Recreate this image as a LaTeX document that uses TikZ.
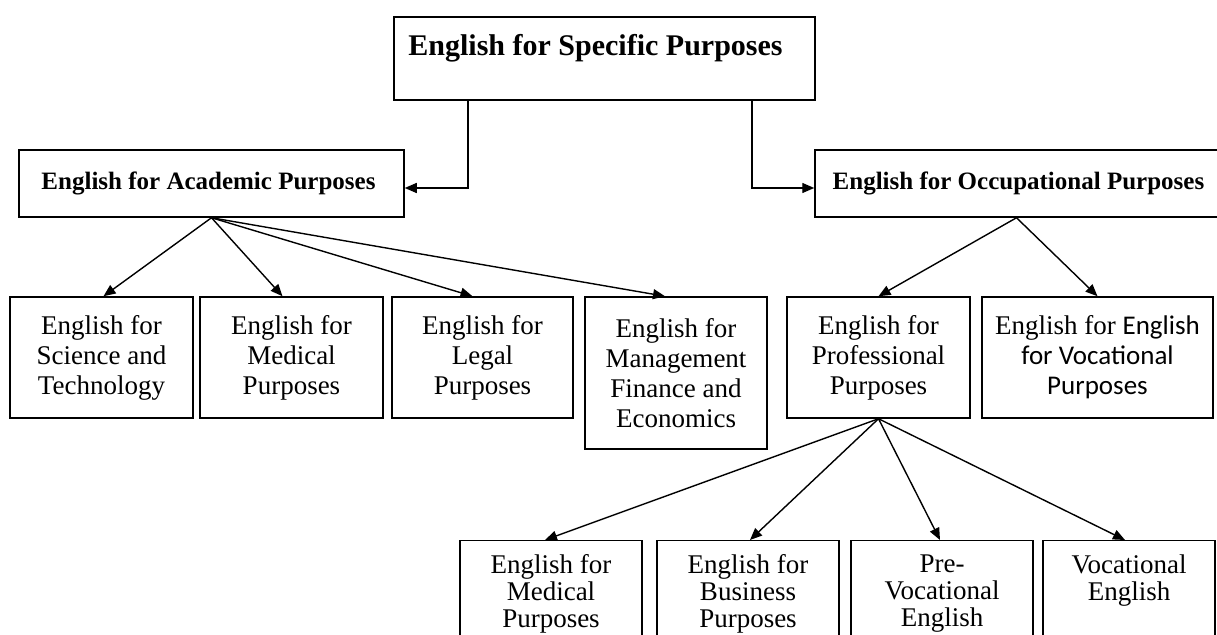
\documentclass[tikz,border=0pt]{standalone}
\usepackage{fontspec}
\setmainfont{Liberation Serif}
\newfontfamily\calfont{Carlito}
\usetikzlibrary{arrows.meta}

\begin{document}
\begin{tikzpicture}[x=0.5pt,y=-0.5pt,
    box/.style={draw, line width=0.75pt, inner sep=0pt, align=center,
        font=\fontsize{13.5}{15}\selectfont},
    head/.style={box, font=\bfseries\fontsize{12.5}{15}\selectfont},
    lowbox/.style={box, anchor=north, inner ysep=7pt, minimum width=91pt,
        font=\fontsize{13.5}{13.5}\selectfont},
    link/.style={line width=0.7pt, -{Triangle[length=6pt,width=5pt]}}]
    \useasboundingbox (0,0) rectangle (1217,635);

    % top level
    \node[head, font=\bfseries\fontsize{15}{17}\selectfont,
        minimum width=210.5pt, minimum height=41.5pt] (esp) at (604.5,58.5)
        {English for Specific Purposes\hspace*{9pt}\\[-3.3pt]\mbox{}};
    \node[head, minimum width=192.5pt, minimum height=33.5pt] (eap) at (211.5,183.5)
        {English for Academic Purposes\hspace*{3pt}};
    \node[head, minimum width=201.5pt, minimum height=33.5pt] (eop) at (1016.5,183.5)
        {\hspace*{2pt}English for Occupational Purposes};

    % second level
    \node[box, minimum width=91.5pt, minimum height=60.5pt] (sci) at (101.5,357.5)
        {English for\\Science and\\Technology};
    \node[box, minimum width=91.5pt, minimum height=60.5pt] (med) at (291.5,357.5)
        {English for\\Medical\\Purposes};
    \node[box, minimum width=90.5pt, minimum height=60.5pt] (leg) at (482.5,357.5)
        {English for\\Legal\\Purposes};
    \node[box, minimum width=91pt, minimum height=76pt] (mgt) at (676,373)
        {English for\\Management\\Finance and\\Economics};
    \node[box, minimum width=91.5pt, minimum height=60.5pt] (pro) at (878.5,357.5)
        {English for\\Professional\\Purposes};
    \node[box, minimum width=115.5pt, minimum height=60.5pt] (voc) at (1097.5,357.5)
        {English for {\calfont English}\\{\calfont for Vocational}\\{\calfont Purposes}};

    % third level
    \node[lowbox] (bmed) at (551,540) {English for\\Medical\\Purposes};
    \node[lowbox] (bbus) at (748,540) {English for\\Business\\Purposes};
    \node[lowbox] (bpre) at (942,540) {Pre-\\Vocational\\English};
    \node[lowbox, minimum width=86pt] (bvoc) at (1129,540) {Vocational\\English\\\mbox{}};

    \draw[link] ([xshift=-68.25pt]esp.south) |- ([yshift=-2.25pt]eap.east);
    \draw[link] ([xshift=73.75pt]esp.south) |- ([yshift=-2.25pt]eop.west);

    \foreach \n/\s in {sci/1,med/-4.5,leg/-5,mgt/-5.5}
        \draw[link] (eap.south) -- ([xshift=\s pt]\n.north);
    \foreach \n in {pro,voc}
        \draw[link] (eop.south) -- (\n.north);
    \foreach \n/\s in {bmed/-3,bbus/1,bpre/-1,bvoc/-2}
        \draw[link] (pro.south) -- ([xshift=\s pt]\n.north);
\end{tikzpicture}
\end{document}
